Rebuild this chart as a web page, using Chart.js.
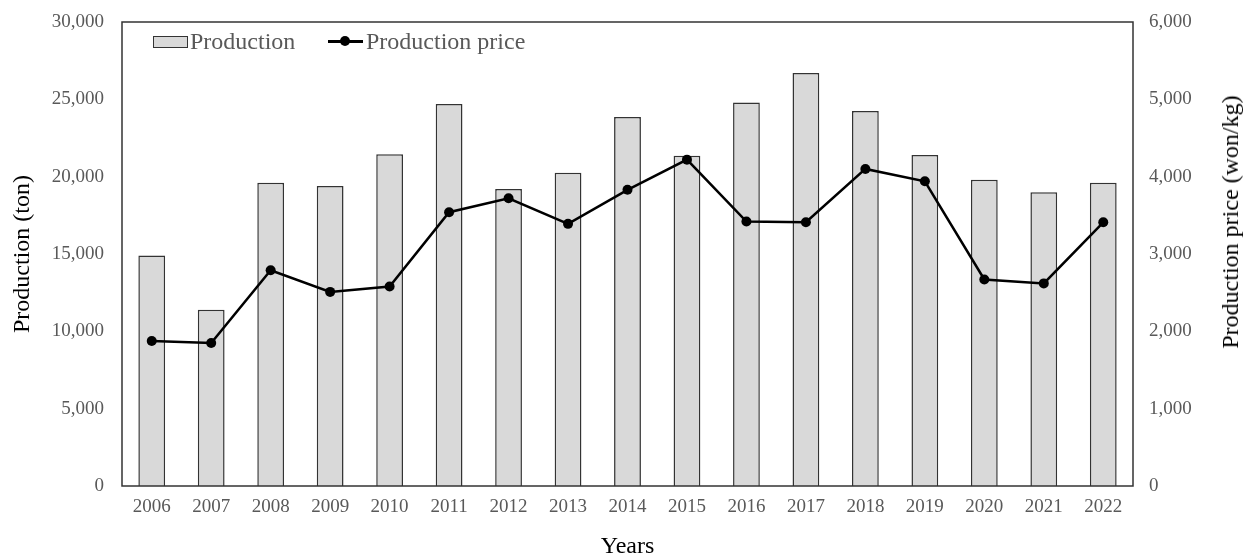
<!DOCTYPE html>
<html>
<head>
<meta charset="utf-8">
<script src="https://cdn.jsdelivr.net/npm/chart.js@4"></script>
<style>
  html, body { margin: 0; padding: 0; background: #fff; }
  #wrap { position: relative; width: 1245px; height: 557px; overflow: hidden; }
  .lg { position: absolute; font-family: 'Liberation Serif', serif; font-size: 24px; line-height: 24px; color: #595959; white-space: nowrap; }
  .sw-bar { position: absolute; box-sizing: border-box; background: #d9d9d9; border: 1.5px solid #333; }
  .sw-line { position: absolute; height: 2.5px; background: #000; }
  .sw-dot { position: absolute; width: 10px; height: 10px; border-radius: 50%; background: #000; }
  #rightTitle { position: absolute; font-family: 'Liberation Serif', serif; font-size: 24px; line-height: 24px; color: #000; white-space: nowrap;
    transform: translate(-50%, -50%) rotate(-90deg); }
</style>
</head>
<body>
<div id="wrap">
  <canvas id="chart" width="1245" height="557"></canvas>
  <div class="sw-bar" style="left:153px;top:36px;width:35px;height:12px;"></div>
  <div class="lg" id="lg1" style="left:190px;top:29px;"></div>
  <div class="sw-line" style="left:328px;top:40px;width:35px;"></div>
  <div class="sw-dot" style="left:340px;top:36px;"></div>
  <div class="lg" id="lg2" style="left:366px;top:29px;"></div>
  <div id="rightTitle" style="left:1230px;top:222px;"></div>
</div>
<script>
// === DATOS ===
const years = ["2006", "2007", "2008", "2009", "2010", "2011", "2012", "2013", "2014",
  "2015", "2016", "2017", "2018", "2019", "2020", "2021", "2022"];
const production = [14900, 11400, 19600, 19400, 21450, 24700, 19200, 20250, 23850,
  21350, 24800, 26700, 24250, 21400, 19800, 19000, 19600];
const productionPrice = [1875, 1850, 2790, 2510, 2580, 3540, 3720, 3390, 3830,
  4220, 3420, 3410, 4100, 3940, 2670, 2620, 3410];

const seriesNames = ["Production", "Production price"];
const leftTitle = "Production (ton)";
const rightTitle = "Production price (won/kg)";
const xTitle = "Years";

// === LEYENDA / TITULO DERECHO (HTML) ===
document.getElementById("lg1").textContent = seriesNames[0];
document.getElementById("lg2").textContent = seriesNames[1];
document.getElementById("rightTitle").textContent = rightTitle;

const serif = "'Liberation Serif', serif";
const tickFont = { family: serif, size: 19 };
const titleFont = { family: serif, size: 24 };
const fmt = (v) => Number(v).toLocaleString("en-US");

// tamaño fijo de los ejes verticales, sin relleno extra arriba/abajo
const fixY = (w) => (s) => {
  s.width = w;
  s.paddingTop = 0;
  s.paddingBottom = 0;
};

// marco del area del grafico
const frame = {
  id: "frame",
  afterDraw(chart) {
    const { ctx, chartArea: a } = chart;
    ctx.save();
    ctx.strokeStyle = "#333";
    ctx.lineWidth = 1.5;
    ctx.strokeRect(a.left, a.top, a.right - a.left, a.bottom - a.top);
    ctx.restore();
  },
};

new Chart(document.getElementById("chart"), {
  type: "bar",
  data: {
    labels: years,
    datasets: [
      {
        type: "line",
        label: seriesNames[1],
        data: productionPrice,
        yAxisID: "y2",
        borderColor: "#000",
        backgroundColor: "#000",
        borderWidth: 2.5,
        pointRadius: 5,
        pointBackgroundColor: "#000",
        pointBorderWidth: 0,
        tension: 0,
        order: 0,
      },
      {
        label: seriesNames[0],
        data: production,
        yAxisID: "y",
        backgroundColor: "#d9d9d9",
        borderColor: "#333",
        borderWidth: 1.5,
        categoryPercentage: 1,
        barPercentage: 0.45,
        order: 1,
      },
    ],
  },
  options: {
    responsive: false,
    animation: false,
    devicePixelRatio: 1,
    layout: { padding: { top: 22, left: 0, right: 0, bottom: 0 } },
    plugins: { legend: { display: false }, tooltip: { enabled: false } },
    scales: {
      x: {
        grid: { display: false, drawTicks: false },
        border: { display: false },
        ticks: { color: "#595959", font: tickFont, padding: 10, maxRotation: 0 },
        title: { display: true, text: xTitle, color: "#000", font: titleFont, padding: { top: 0, bottom: -4 } },
        afterFit: (s) => { s.height = 71; },
      },
      y: {
        position: "left",
        min: 0,
        max: 30000,
        grid: { display: false, drawTicks: false },
        border: { display: false },
        ticks: { stepSize: 5000, color: "#595959", font: tickFont, padding: 18, callback: fmt },
        title: { display: true, text: leftTitle, color: "#000", font: titleFont, padding: { top: 8, bottom: 0 } },
        afterFit: fixY(122),
      },
      y2: {
        position: "right",
        min: 0,
        max: 6000,
        grid: { display: false, drawTicks: false },
        border: { display: false },
        ticks: { stepSize: 1000, color: "#595959", font: tickFont, padding: 16, callback: fmt },
        afterFit: fixY(112),
      },
    },
  },
  plugins: [frame],
});
</script>
</body>
</html>
